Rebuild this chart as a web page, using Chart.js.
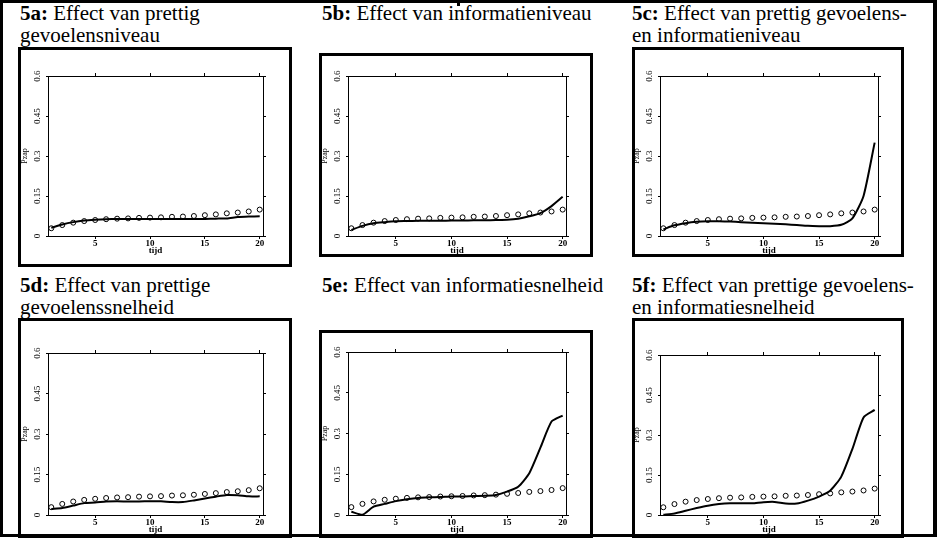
<!DOCTYPE html>
<html>
<head>
<meta charset="utf-8">
<script src="https://cdn.jsdelivr.net/npm/chart.js@4.4.1/dist/chart.umd.min.js"></script>
<style>
  html, body { margin: 0; padding: 0; background: #fff; }
  #page { position: relative; width: 937px; height: 538px; overflow: hidden; font-family: "Liberation Serif", "Times New Roman", serif; }
  .frame { position: absolute; left: 0; top: 0; width: 937px; height: 537px; box-sizing: border-box; border: 3px solid #000; border-right-width: 4px; }
  .mark { position: absolute; left: 457px; top: 2px; width: 3px; height: 4px; background: #000; }
  .titel { position: absolute; font-size: 21px; line-height: 22px; white-space: nowrap; color: #000; }
  .kader { position: absolute; box-sizing: border-box; border: 3px solid #000; }
  canvas { position: absolute; }
</style>
</head>
<body>
<div id="page">
  <div class="frame"></div>
  <div class="mark"></div>
</div>
<script>
// tijdstappen en waarden (Pzap per tijdstip)
const tijd = [1, 2, 3, 4, 5, 6, 7, 8, 9, 10, 11, 12, 13, 14, 15, 16, 17, 18, 19, 20];
// waargenomen kansen (open rondjes), gelijk in alle figuren
const waargenomen = [0.029, 0.041, 0.050, 0.056, 0.060, 0.063, 0.065, 0.066, 0.068, 0.069, 0.070, 0.072, 0.073, 0.075, 0.078, 0.081, 0.085, 0.088, 0.092, 0.099];
// modelvoorspellingen (doorgetrokken lijn)
const model5a = [0.031, 0.043, 0.052, 0.058, 0.061, 0.063, 0.064, 0.064, 0.064, 0.064, 0.064, 0.064, 0.064, 0.064, 0.064, 0.065, 0.066, 0.071, 0.073, 0.074];
const model5b = [0.023, 0.038, 0.048, 0.052, 0.055, 0.056, 0.057, 0.057, 0.057, 0.058, 0.058, 0.059, 0.059, 0.060, 0.061, 0.065, 0.074, 0.086, 0.112, 0.147];
const model5c = [0.025, 0.040, 0.048, 0.053, 0.055, 0.055, 0.054, 0.052, 0.050, 0.048, 0.046, 0.044, 0.041, 0.038, 0.037, 0.037, 0.042, 0.066, 0.150, 0.350];
const model5d = [0.022, 0.026, 0.035, 0.044, 0.046, 0.050, 0.051, 0.050, 0.050, 0.051, 0.051, 0.048, 0.048, 0.054, 0.061, 0.068, 0.074, 0.073, 0.069, 0.069];
const model5e = [0.012, 0.001, 0.031, 0.041, 0.051, 0.058, 0.063, 0.065, 0.066, 0.068, 0.068, 0.070, 0.071, 0.074, 0.086, 0.104, 0.154, 0.248, 0.344, 0.366];
const model5f = [0.001, 0.006, 0.016, 0.026, 0.035, 0.041, 0.044, 0.044, 0.044, 0.048, 0.049, 0.043, 0.043, 0.054, 0.069, 0.091, 0.144, 0.248, 0.366, 0.394];
// as-indeling
const xTicks = [5, 10, 15, 20];
const yTicks = [0, 0.15, 0.3, 0.45, 0.6];
const yTickLabels = ["0", "0.15", "0.3", "0.45", "0.6"];

// figuren: kop, kader en plotgebied (l, t, r, b)
const figuren = [
  { kop: "<b>5a:</b> Effect van prettig<br>gevoelensniveau", kopX: 20, kopY: 2, kader: [18, 47, 292, 267], plot: [48, 76, 263, 236], model: model5a },
  { kop: "<b>5b:</b> Effect van informatieniveau", kopX: 322, kopY: 2, kader: [319, 53, 593, 257], plot: [348, 76, 566, 236], model: model5b },
  { kop: "<b>5c:</b> Effect van prettig gevoelens-<br>en informatieniveau", kopX: 632, kopY: 2, kader: [632, 47, 904, 257], plot: [660, 76, 878, 236], model: model5c },
  { kop: "<b>5d:</b> Effect van prettige<br>gevoelenssnelheid", kopX: 20, kopY: 274, kader: [18, 318, 292, 540], plot: [48, 353, 263, 515], model: model5d },
  { kop: "<b>5e:</b> Effect van informatiesnelheid", kopX: 322, kopY: 274, kader: [319, 330, 593, 540], plot: [348, 352, 566, 515], model: model5e },
  { kop: "<b>5f:</b> Effect van prettige gevoelens-<br>en informatiesnelheid", kopX: 632, kopY: 274, kader: [632, 318, 904, 540], plot: [660, 355, 878, 515], model: model5f }
];

const page = document.getElementById("page");
const serif = "'Liberation Serif', 'Times New Roman', serif";

// y-labels staan gedraaid (van onder naar boven gelezen)
const draaiLabels = {
  id: "draaiLabels",
  afterDraw(chart) {
    const ctx = chart.ctx;
    const schaal = chart.scales.y;
    ctx.save();
    ctx.fillStyle = "#000";
    ctx.font = "9px " + serif;
    ctx.textAlign = "center";
    ctx.textBaseline = "middle";
    schaal.ticks.forEach((t, i) => {
      const y = schaal.getPixelForValue(t.value);
      ctx.save();
      ctx.translate(schaal.right - 10, y);
      ctx.rotate(-Math.PI / 2);
      ctx.fillText(yTickLabels[i], 0, 0);
      ctx.restore();
    });
    ctx.restore();
  }
};

function maakFiguur(f) {
  const kop = document.createElement("div");
  kop.className = "titel";
  kop.style.left = f.kopX + "px";
  kop.style.top = f.kopY + "px";
  kop.innerHTML = f.kop;
  page.appendChild(kop);

  const k = f.kader;
  const kader = document.createElement("div");
  kader.className = "kader";
  kader.style.left = k[0] + "px";
  kader.style.top = k[1] + "px";
  kader.style.width = (k[2] - k[0]) + "px";
  kader.style.height = (k[3] - k[1]) + "px";
  page.appendChild(kader);

  // ruimte voor de assen rond het plotgebied
  const links = 30, boven = 6, rechts = 6, onder = 20;
  const p = f.plot;
  const canvas = document.createElement("canvas");
  canvas.width = links + (p[2] - p[0]) + rechts;
  canvas.height = boven + (p[3] - p[1]) + onder;
  canvas.style.left = (p[0] - links) + "px";
  canvas.style.top = (p[1] - boven) + "px";
  page.appendChild(canvas);

  const lijnAs = (pos, lengte) => ({
    grid: { drawOnChartArea: false, drawTicks: true, tickLength: lengte, color: "#000", lineWidth: 1 },
    border: { display: true, color: "#000", width: 1 },
    position: pos
  });

  new Chart(canvas, {
    type: "line",
    data: {
      datasets: [
        {
          label: "model",
          data: tijd.map((t, i) => ({ x: t, y: f.model[i] })),
          borderColor: "#000",
          borderWidth: 2,
          pointRadius: 0,
          tension: 0.2,
          fill: false
        },
        {
          label: "waargenomen",
          data: tijd.map((t, i) => ({ x: t, y: waargenomen[i] })),
          showLine: false,
          pointStyle: "circle",
          pointRadius: 2.5,
          borderColor: "#000",
          borderWidth: 1,
          backgroundColor: "rgba(0,0,0,0)"
        }
      ]
    },
    options: {
      responsive: false,
      animation: false,
      layout: { padding: 0 },
      plugins: { legend: { display: false }, tooltip: { enabled: false } },
      scales: {
        x: {
          type: "linear", min: 0.7, max: 20.3,
          ...lijnAs("bottom", 3),
          afterBuildTicks: s => { s.ticks = xTicks.map(v => ({ value: v })); },
          afterFit: s => { s.height = onder; },
          ticks: { color: "#000", padding: 0, maxRotation: 0, font: { family: serif, size: 9, weight: "bold", lineHeight: 1 } },
          title: { display: true, text: "tijd", color: "#000", padding: 0, font: { family: serif, size: 9, weight: "bold" } }
        },
        xBoven: {
          type: "linear", min: 0.7, max: 20.3,
          ...lijnAs("top", 3),
          afterBuildTicks: s => { s.ticks = xTicks.map(v => ({ value: v })); },
          afterFit: s => { s.height = boven; },
          ticks: { display: false }
        },
        y: {
          type: "linear", min: 0, max: 0.6,
          ...lijnAs("left", 2),
          afterBuildTicks: s => { s.ticks = yTicks.map(v => ({ value: v })); },
          afterFit: s => { s.width = links; },
          ticks: { display: false },
          title: { display: true, text: "Pzap", color: "#000", padding: { top: 2, bottom: 0 }, font: { family: serif, size: 8 } }
        },
        yRechts: {
          type: "linear", min: 0, max: 0.6,
          ...lijnAs("right", 3),
          afterBuildTicks: s => { s.ticks = yTicks.map(v => ({ value: v })); },
          afterFit: s => { s.width = rechts; },
          ticks: { display: false }
        }
      }
    },
    plugins: [draaiLabels]
  });
}

figuren.forEach(maakFiguur);
</script>
</body>
</html>
